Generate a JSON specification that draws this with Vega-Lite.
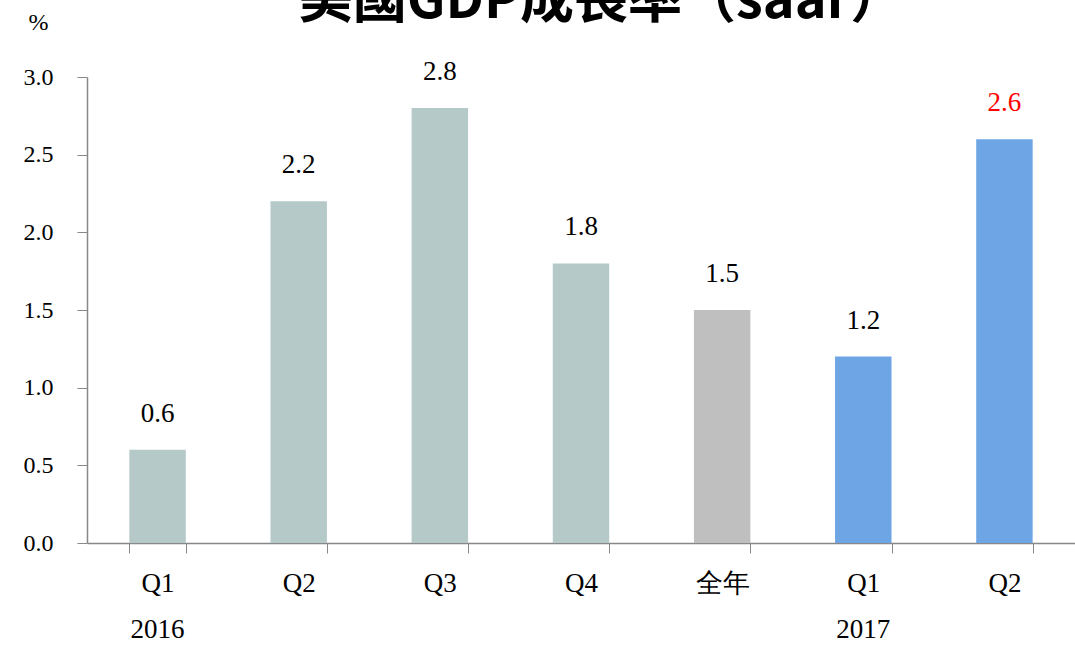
{
  "$schema": "https://vega.github.io/schema/vega-lite/v6.json",
  "width": 988,
  "height": 466,
  "autosize": {"type": "none"},
  "padding": {"left": 87, "top": 77, "right": 0, "bottom": 107},
  "background": "white",
  "data": {
    "values": [
      {"cat": "Q1", "value": 0.6, "group": "2016", "year": "2016"},
      {"cat": "Q2", "value": 2.2, "group": "2016", "year": ""},
      {"cat": "Q3", "value": 2.8, "group": "2016", "year": ""},
      {"cat": "Q4", "value": 1.8, "group": "2016", "year": ""},
      {"cat": "全年", "value": 1.5, "group": "全年", "year": ""},
      {"cat": "Q1 ", "value": 1.2, "group": "2017", "year": "2017"},
      {"cat": "Q2 ", "value": 2.6, "group": "2017 Q2", "year": ""}
    ]
  },
  "encoding": {
    "y": {
      "field": "value",
      "type": "quantitative",
      "scale": {"domain": [0, 3], "nice": false},
      "axis": {
        "values": [0, 0.5, 1, 1.5, 2, 2.5, 3],
        "format": ".1f",
        "grid": false,
        "title": "%",
        "titleAngle": 0,
        "titleX": -49,
        "titleY": -55,
        "titleAlign": "center",
        "titleBaseline": "middle",
        "titleFont": "Times New Roman, Liberation Serif, serif",
        "titleFontSize": 24,
        "titleFontWeight": "normal",
        "titleColor": "#000000",
        "labelFont": "Times New Roman, Liberation Serif, serif",
        "labelFontSize": 24,
        "labelColor": "#000000",
        "labelPadding": 24,
        "tickSize": 10,
        "tickColor": "#888888",
        "domainColor": "#888888",
        "domainWidth": 1.5
      }
    }
  },
  "layer": [
    {
      "mark": {"type": "bar"},
      "encoding": {
        "x": {
          "field": "cat",
          "type": "nominal",
          "sort": null,
          "scale": {"paddingInner": 0.6, "paddingOuter": 0.3},
          "axis": {
            "title": null,
            "labelAngle": 0,
            "labelFont": "Times New Roman, Liberation Serif, serif",
            "labelFontSize": 27,
            "labelColor": "#000000",
            "labelPadding": 17,
            "labelBaseline": "top",
            "tickBand": "extent",
            "tickSize": 10,
            "tickColor": "#888888",
            "domainColor": "#888888",
            "domainWidth": 1.5
          }
        },
        "color": {
          "field": "group",
          "type": "nominal",
          "scale": {
            "domain": ["2016", "全年", "2017", "2017 Q2"],
            "range": ["#b5c9c9", "#bfbfbf", "#6ea5e4", "#6ea5e4"]
          },
          "legend": null
        }
      }
    },
    {
      "mark": {"type": "text", "dy": -22, "baseline": "bottom", "font": "Times New Roman, Liberation Serif, serif", "fontSize": 27},
      "encoding": {
        "x": {"field": "cat", "type": "nominal", "sort": null, "axis": null},
        "text": {"field": "value", "type": "quantitative", "format": ".1f"},
        "color": {
          "field": "group",
          "type": "nominal",
          "scale": {
            "domain": ["2016", "全年", "2017", "2017 Q2"],
            "range": ["#000000", "#000000", "#000000", "#ff0000"]
          },
          "legend": null
        }
      }
    },
    {
      "mark": {"type": "text", "dy": 87, "baseline": "middle", "font": "Times New Roman, Liberation Serif, serif", "fontSize": 27, "color": "#000000"},
      "encoding": {
        "x": {
          "field": "cat",
          "type": "nominal",
          "sort": null,
          "axis": {
            "orient": "top",
            "labels": false,
            "ticks": false,
            "domain": false,
            "grid": false,
            "title": "美國GDP成長率（saar）",
            "titleFont": "Noto Sans CJK TC, sans-serif",
            "titleFontSize": 54,
            "titleFontWeight": "bold",
            "titleColor": "#000000",
            "titleAlign": "center",
            "titleAnchor": null,
            "titleBaseline": "alphabetic",
            "titleX": 514,
            "titleY": -60
          }
        },
        "y": {"datum": 0},
        "text": {"field": "year", "type": "nominal"}
      }
    }
  ],
  "resolve": {"scale": {"color": "independent"}, "axis": {"x": "independent"}},
  "config": {"view": {"stroke": null}}
}
